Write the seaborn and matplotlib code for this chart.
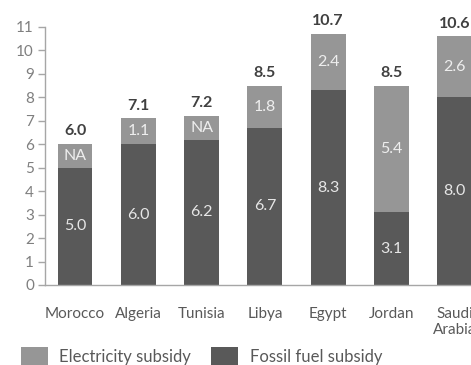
import matplotlib
matplotlib.use("Agg")
import matplotlib.pyplot as plt
from matplotlib.patches import Patch
import seaborn as sns
import pandas as pd

countries = ["Morocco", "Algeria", "Tunisia", "Libya", "Egypt", "Jordan", "Saudi\nArabia"]
fossil = [5.0, 6.0, 6.2, 6.7, 8.3, 3.1, 8.0]
electricity = [1.0, 1.1, 1.0, 1.8, 2.4, 5.4, 2.6]
elec_labels = ["NA", "1.1", "NA", "1.8", "2.4", "5.4", "2.6"]
totals = ["6.0", "7.1", "7.2", "8.5", "10.7", "8.5", "10.6"]
yticks = list(range(0, 12))

sns.set_theme(style="white")
plt.rcParams["font.family"] = ["Lato", "DejaVu Sans"]

df = pd.DataFrame({"country": countries, "fossil": fossil, "elec": electricity})
df["total"] = df["fossil"] + df["elec"]

C_ELEC = "#969696"
C_FOSS = "#595959"
TXT = "#595959"

fig = plt.figure(figsize=(4.71, 3.65), dpi=100)
ax = fig.add_axes([45 / 471, 80 / 365, 473 / 471, 258 / 365])

sns.barplot(data=df, x="country", y="total", color=C_ELEC, width=0.55,
            saturation=1, ax=ax, edgecolor="none")
sns.barplot(data=df, x="country", y="fossil", color=C_FOSS, width=0.55,
            saturation=1, ax=ax, edgecolor="none")

for i, (f, e, el, t) in enumerate(zip(fossil, electricity, elec_labels, totals)):
    ax.text(i, f / 2, f"{f:.1f}", ha="center", va="center", color="#e6e6e6", fontsize=11.5)
    ax.text(i, f + e / 2, el, ha="center", va="center", color="#eeeeee", fontsize=11.5)
    ax.text(i, f + e + 0.25, t, ha="center", va="bottom", color="#404040",
            fontsize=11.5, fontweight="bold")

ax.set_xlim(-0.475, 7.0)
ax.set_ylim(0, 11)
ax.set_yticks(yticks)
ax.set_yticklabels([str(v) for v in yticks])
ax.set_xlabel("")
ax.set_ylabel("")

for s in ["top", "right"]:
    ax.spines[s].set_visible(False)
for s in ["left", "bottom"]:
    ax.spines[s].set_color("#a6a6a6")
    ax.spines[s].set_linewidth(1.0)

ax.tick_params(axis="y", direction="out", length=5, width=1, color="#a6a6a6",
               labelcolor="#7f7f7f", labelsize=11, pad=3, left=True)
ax.tick_params(axis="x", length=0, labelcolor=TXT, labelsize=11, pad=16)
for lab in ax.get_xticklabels():
    lab.set_linespacing(1.2)

handles = [Patch(facecolor=C_ELEC, edgecolor="none", label="Electricity subsidy"),
           Patch(facecolor=C_FOSS, edgecolor="none", label="Fossil fuel subsidy")]
leg = fig.legend(handles=handles, loc="center left", bbox_to_anchor=(21 / 471, 9 / 365),
                 ncol=2, frameon=False, fontsize=12, handlelength=1.6, handleheight=1.25,
                 handletextpad=0.7, columnspacing=1.2, borderpad=0, borderaxespad=0)
for t in leg.get_texts():
    t.set_color(TXT)

fig.savefig("out.png", dpi=100)
